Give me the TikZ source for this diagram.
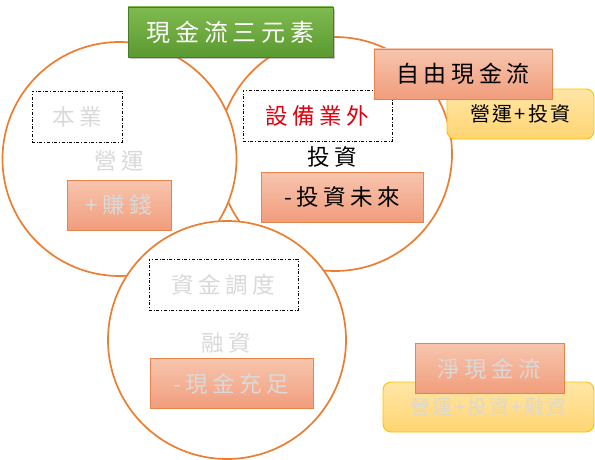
\documentclass[tikz,border=0pt]{standalone}
\usepackage{fontspec}
\usetikzlibrary{shadows}
\newfontfamily\cjk[LetterSpace=20]{Noto Sans CJK TC}
\newfontfamily\cjkt[LetterSpace=10]{Noto Sans CJK TC}
\definecolor{ring}{HTML}{ED7D31}
\definecolor{salmonT}{HTML}{F7C5AE}
\definecolor{salmonB}{HTML}{F19D7C}
\definecolor{salmonD}{HTML}{E8834A}
\definecolor{yelT}{HTML}{FFE6A6}
\definecolor{yelB}{HTML}{FFD572}
\definecolor{yelD}{HTML}{FFC000}
\definecolor{grnT}{HTML}{80BA50}
\definecolor{grnB}{HTML}{5A9A31}
\definecolor{lgray}{HTML}{D9D9D9}
\definecolor{redtxt}{HTML}{E2000F}
\tikzset{
  x=1pt,y=1pt,
  ringline/.style={draw=ring,fill=white,line width=1.7pt},
  salmonbox/.style={draw=salmonD,line width=0.9pt,top color=salmonT,bottom color=salmonB,
    minimum height=50pt,inner sep=0pt,font=\cjk\fontsize{22.5}{26}\selectfont},
  yelbox/.style={draw=yelD,line width=0.9pt,top color=yelT,bottom color=yelB,rounded corners=8pt,
    minimum height=50pt,inner sep=0pt,font=\cjkt\fontsize{20}{24}\selectfont},
  dashbox/.style={draw=black,dash dot,line width=0.8pt,fill=white,
    minimum height=51pt,inner sep=0pt,font=\cjk\fontsize{22.5}{26}\selectfont},
  plaintext/.style={inner sep=0pt,font=\cjk\fontsize{22.5}{26}\selectfont},
  greenbox/.style={fill=grnB,top color=grnT,bottom color=grnB,draw=grnB!80!black,line width=0.5pt,
    drop shadow={opacity=0.45,shadow xshift=2pt,shadow yshift=-2.5pt},
    minimum width=205pt,minimum height=50pt,inner sep=0pt,text=white,
    font=\cjk\fontsize{24}{28}\selectfont}
}
\begin{document}
\begin{tikzpicture}
\useasboundingbox (0,0) rectangle (595,-460);
% rings (each one hides the ones beneath)
\draw[ringline] (335,-154) circle (117);
\draw[ringline] (119.5,-159) circle (117);
\draw[ringline] (227,-340) circle (119);
% title
\node[greenbox] (title) at (230.5,-32) {現金流三元素};
% left ring
\node[dashbox,minimum width=90pt,text=lgray] (benye) at (77,-116.5) {本業};
\node[plaintext,text=lgray] (yingyun) at (119,-161) {營運};
\node[salmonbox,minimum width=104pt,text=lgray] (zhuanqian) at (119,-205) {+賺錢};
% right ring
\node[dashbox,minimum width=149pt,text=redtxt] (shebei) at (317.5,-115.5) {設備業外};
\node[plaintext,text=black] (touzi) at (332,-157) {投資};
\node[salmonbox,minimum width=162pt,text=black] (weilai) at (342,-197) {-投資未來};
% bottom ring
\node[dashbox,minimum width=149pt,text=lgray] (diaodu) at (223.5,-284.5) {資金調度};
\node[plaintext,text=lgray] (rongzi) at (226,-343) {融資};
\node[salmonbox,minimum width=163pt,text=lgray] (chongzu) at (231.5,-383.5) {-現金充足};
% free cash flow
\node[yelbox,minimum width=147pt,text=black] (fcfdef) at (520.5,-114) {營運+投資};
\node[salmonbox,minimum width=178pt,text=black,font=\cjk\fontsize{23}{27}\selectfont] (fcf) at (463,-74) {自由現金流};
% net cash flow
\node[yelbox,minimum width=211pt,text=lgray!85!yelB] (ncfdef) at (488.5,-407) {營運+投資+融資};
\node[salmonbox,minimum width=149pt,text=lgray] (ncf) at (489.5,-368.5) {淨現金流};
\end{tikzpicture}
\end{document}
